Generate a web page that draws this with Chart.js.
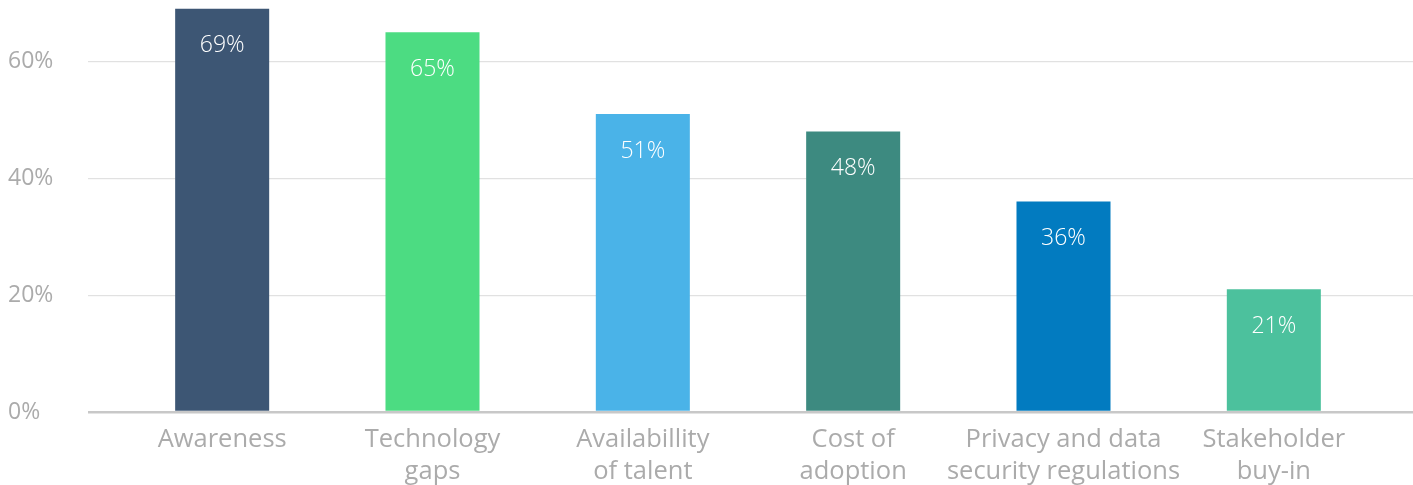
<!DOCTYPE html>
<html>
<head>
<meta charset="utf-8">
<script src="https://cdn.jsdelivr.net/npm/chart.js@4/dist/chart.umd.min.js"></script>
<style>
  html, body { margin: 0; padding: 0; background: #fff; }
  canvas { display: block; }
</style>
</head>
<body>
<canvas id="barrierChart" width="1413" height="485"></canvas>
<script>
const categories = [
    ['Awareness'],
    ['Technology', 'gaps'],
    ['Availabillity', 'of talent'],
    ['Cost of', 'adoption'],
    ['Privacy and data', 'security regulations'],
    ['Stakeholder', 'buy-in'],
];
const values = [69, 65, 51, 48, 36, 21];
const barColors = ['#3d5674', '#4cdc82', '#4ab3e8', '#3d8a80', '#027bc0', '#4cc19d'];
const yTicks = [0, 20, 40, 60];

const labelGrey = '#ababab';
const fontFamily = '"Open Sans", Lato, sans-serif';

// white percentage labels inside the top of each bar
const barLabels = {
    id: 'barLabels',
    afterDatasetsDraw(chart) {
        const ctx = chart.ctx;
        const meta = chart.getDatasetMeta(0);
        ctx.save();
        ctx.font = '300 23px ' + fontFamily;
        ctx.fillStyle = '#ffffff';
        ctx.textAlign = 'center';
        ctx.textBaseline = 'middle';
        meta.data.forEach((bar, i) => {
            ctx.fillText(values[i] + '%', bar.x, bar.y + 37);
        });
        ctx.restore();
    }
};

const gridColor = c => (c.tick && c.tick.value === 0) ? '#c8c8c8' : '#e1e1e1';
const gridWidth = c => (c.tick && c.tick.value === 0) ? 2.5 : 1.2;
const setTicks = scale => { scale.ticks = yTicks.map(v => ({ value: v })); };

let ctx = document.getElementById('barrierChart').getContext('2d');
new Chart(ctx, {
    type: 'bar',
    data: {
        labels: categories,
        datasets: [{
            data: values,
            backgroundColor: barColors,
            borderWidth: 0,
            barPercentage: 0.447,
            categoryPercentage: 1,
        }]
    },
    options: {
        responsive: false,
        devicePixelRatio: 1,
        animation: false,
        layout: { padding: { left: 8, top: 0, right: 0, bottom: 0 } },
        plugins: {
            legend: { display: false },
            tooltip: { enabled: false },
        },
        scales: {
            x: {
                grid: { display: false },
                border: { display: false },
                ticks: {
                    color: labelGrey,
                    font: { family: fontFamily, size: 25.5, weight: 400, lineHeight: 1.25 },
                    padding: 4,
                    maxRotation: 0,
                    autoSkip: false,
                },
                afterFit: s => { s.height = 73; s.paddingLeft = 0; s.paddingRight = 0; },
            },
            y: {
                min: 0,
                max: 70.5,
                afterBuildTicks: setTicks,
                grid: { color: gridColor, lineWidth: gridWidth, tickLength: 29 },
                border: { display: false },
                ticks: {
                    color: labelGrey,
                    font: { family: fontFamily, size: 23, weight: 400 },
                    crossAlign: 'far',
                    callback: v => v + '%',
                },
                afterFit: s => { s.width = 109; s.paddingTop = 0; s.paddingBottom = 0; },
            },
            yRight: {
                position: 'right',
                min: 0,
                max: 70.5,
                afterBuildTicks: setTicks,
                grid: { drawOnChartArea: false, color: gridColor, lineWidth: gridWidth, tickLength: 34 },
                border: { display: false },
                ticks: { display: false },
                afterFit: s => { s.width = 34; s.paddingTop = 0; s.paddingBottom = 0; },
            },
        },
    },
    plugins: [barLabels],
});
</script>
</body>
</html>
